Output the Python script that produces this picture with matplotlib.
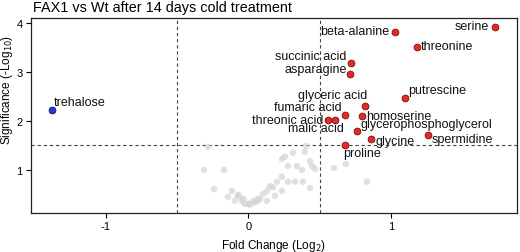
import matplotlib
matplotlib.use("Agg")
import matplotlib.pyplot as plt

plt.rcParams['font.family'] = ['Liberation Sans', 'DejaVu Sans']

# Significant up (red)
sig_names = ["serine", "beta-alanine", "threonine", "succinic acid", "asparagine",
             "putrescine", "glyceric acid", "fumaric acid", "homoserine",
             "threonic acid", "malic acid", "glycerophosphoglycerol", "glycine",
             "spermidine", "proline"]
sig_x = [1.73, 1.03, 1.18, 0.72, 0.71, 1.10, 0.82, 0.68, 0.80, 0.56, 0.61, 0.76, 0.86, 1.26, 0.68]
sig_y = [3.92, 3.82, 3.51, 3.18, 2.96, 2.47, 2.31, 2.12, 2.10, 2.02, 2.02, 1.80, 1.63, 1.71, 1.51]

# Significant down (blue)
down_names = ["trehalose"]
down_x = [-1.38]
down_y = [2.22]

# Not significant (grey)
ns_x = [-0.284, -0.312, -0.172, -0.242, -0.116, -0.144, -0.074, -0.095, -0.046, -0.025,
        0.011, 0.046, 0.067, 0.081, 0.102, 0.130, 0.130, 0.151, 0.172, 0.186,
        0.200, 0.235, 0.235, 0.277, 0.326, 0.382, 0.432, 0.235, 0.256, 0.312,
        0.404, 0.396, 0.277, 0.340, 0.375, 0.432, 0.446, 0.467, 0.600, 0.684,
        0.832, -0.070, -0.035, 0.000, 0.035, 0.065]
ns_y = [1.47, 1.00, 1.00, 0.61, 0.57, 0.45, 0.47, 0.37, 0.37, 0.31,
        0.29, 0.33, 0.37, 0.41, 0.51, 0.37, 0.57, 0.67, 0.65, 0.47,
        0.76, 0.86, 0.57, 0.76, 0.76, 0.76, 0.63, 1.22, 1.27, 1.35,
        1.49, 1.37, 1.08, 1.08, 1.00, 1.18, 1.08, 1.02, 1.04, 1.12,
        0.76, 0.49, 0.41, 0.31, 0.37, 0.41]

x_ticks = [-1, 0, 1]
y_ticks = [1, 2, 3, 4]
fc_thresholds = [-0.5, 0.5]
sig_threshold = 1.5

# label offsets (points) and alignment - styling only
label_style = {
    "serine": (-4.5, 0.5, "right"),
    "beta-alanine": (-4, 0.5, "right"),
    "threonine": (3, 0.5, "left"),
    "succinic acid": (-3, 5, "right"),
    "asparagine": (-2, 3.5, "right"),
    "putrescine": (2.5, 5.5, "left"),
    "glyceric acid": (1.5, 7.5, "right"),
    "fumaric acid": (-3, 6, "right"),
    "homoserine": (3, 0, "left"),
    "threonic acid": (-3.5, 0, "right"),
    "malic acid": (6, -6, "right"),
    "glycerophosphoglycerol": (2.5, 4.5, "left"),
    "glycine": (3, -1.5, "left"),
    "spermidine": (2.5, -3, "left"),
    "proline": (-1.5, -5.5, "left"),
    "trehalose": (1.5, 6, "left"),
}

fig = plt.figure(figsize=(5.2, 2.53), dpi=100)
ax = fig.add_axes([0.0596, 0.154, 0.9344, 0.771])

ax.scatter(ns_x, ns_y, s=22, color="#d4d4d4", alpha=0.7, edgecolors="none", zorder=2)
for v in fc_thresholds:
    ax.axvline(v, color="#444444", lw=0.8, ls=(0, (3, 2.5)), zorder=1)
ax.axhline(sig_threshold, color="#444444", lw=0.8, ls=(0, (3, 2.5)), zorder=1)

ax.scatter(sig_x, sig_y, s=24, color="#e8272b", edgecolors="#7a1010", linewidths=0.6, zorder=3)
ax.scatter(down_x, down_y, s=24, color="#2c3ad8", edgecolors="#101060", linewidths=0.6, zorder=3)

for names, xs, ys in [(sig_names, sig_x, sig_y), (down_names, down_x, down_y)]:
    for n, x, y in zip(names, xs, ys):
        dx, dy, ha = label_style[n]
        ax.annotate(n, (x, y), xytext=(dx, dy), textcoords="offset points",
                    ha=ha, va="center", fontsize=9, color="#111111", zorder=4)

ax.set_xlim(-1.526, 1.884)
ax.set_ylim(0.12, 4.10)
ax.set_xticks(x_ticks)
ax.set_xticklabels([str(t) for t in x_ticks])
ax.set_yticks(y_ticks)
ax.set_yticklabels([str(t) for t in y_ticks])
ax.tick_params(labelsize=8, length=3.5, width=0.8, pad=2.5)
for sp in ax.spines.values():
    sp.set_linewidth(0.9)
    sp.set_color("#222222")

ax.set_xlabel("Fold Change (Log$_2$)", fontsize=8.5)
ax.xaxis.set_label_coords(0.5, -0.125)
ax.set_ylabel("Significance (-Log$_{10}$)", fontsize=8.5)
ax.yaxis.set_label_coords(-0.033, 0.636)
fig.text(0.0635, 0.953, "FAX1 vs Wt after 14 days cold treatment", fontsize=10.4,
         ha="left", va="baseline")

fig.savefig("out.png", dpi=100)
